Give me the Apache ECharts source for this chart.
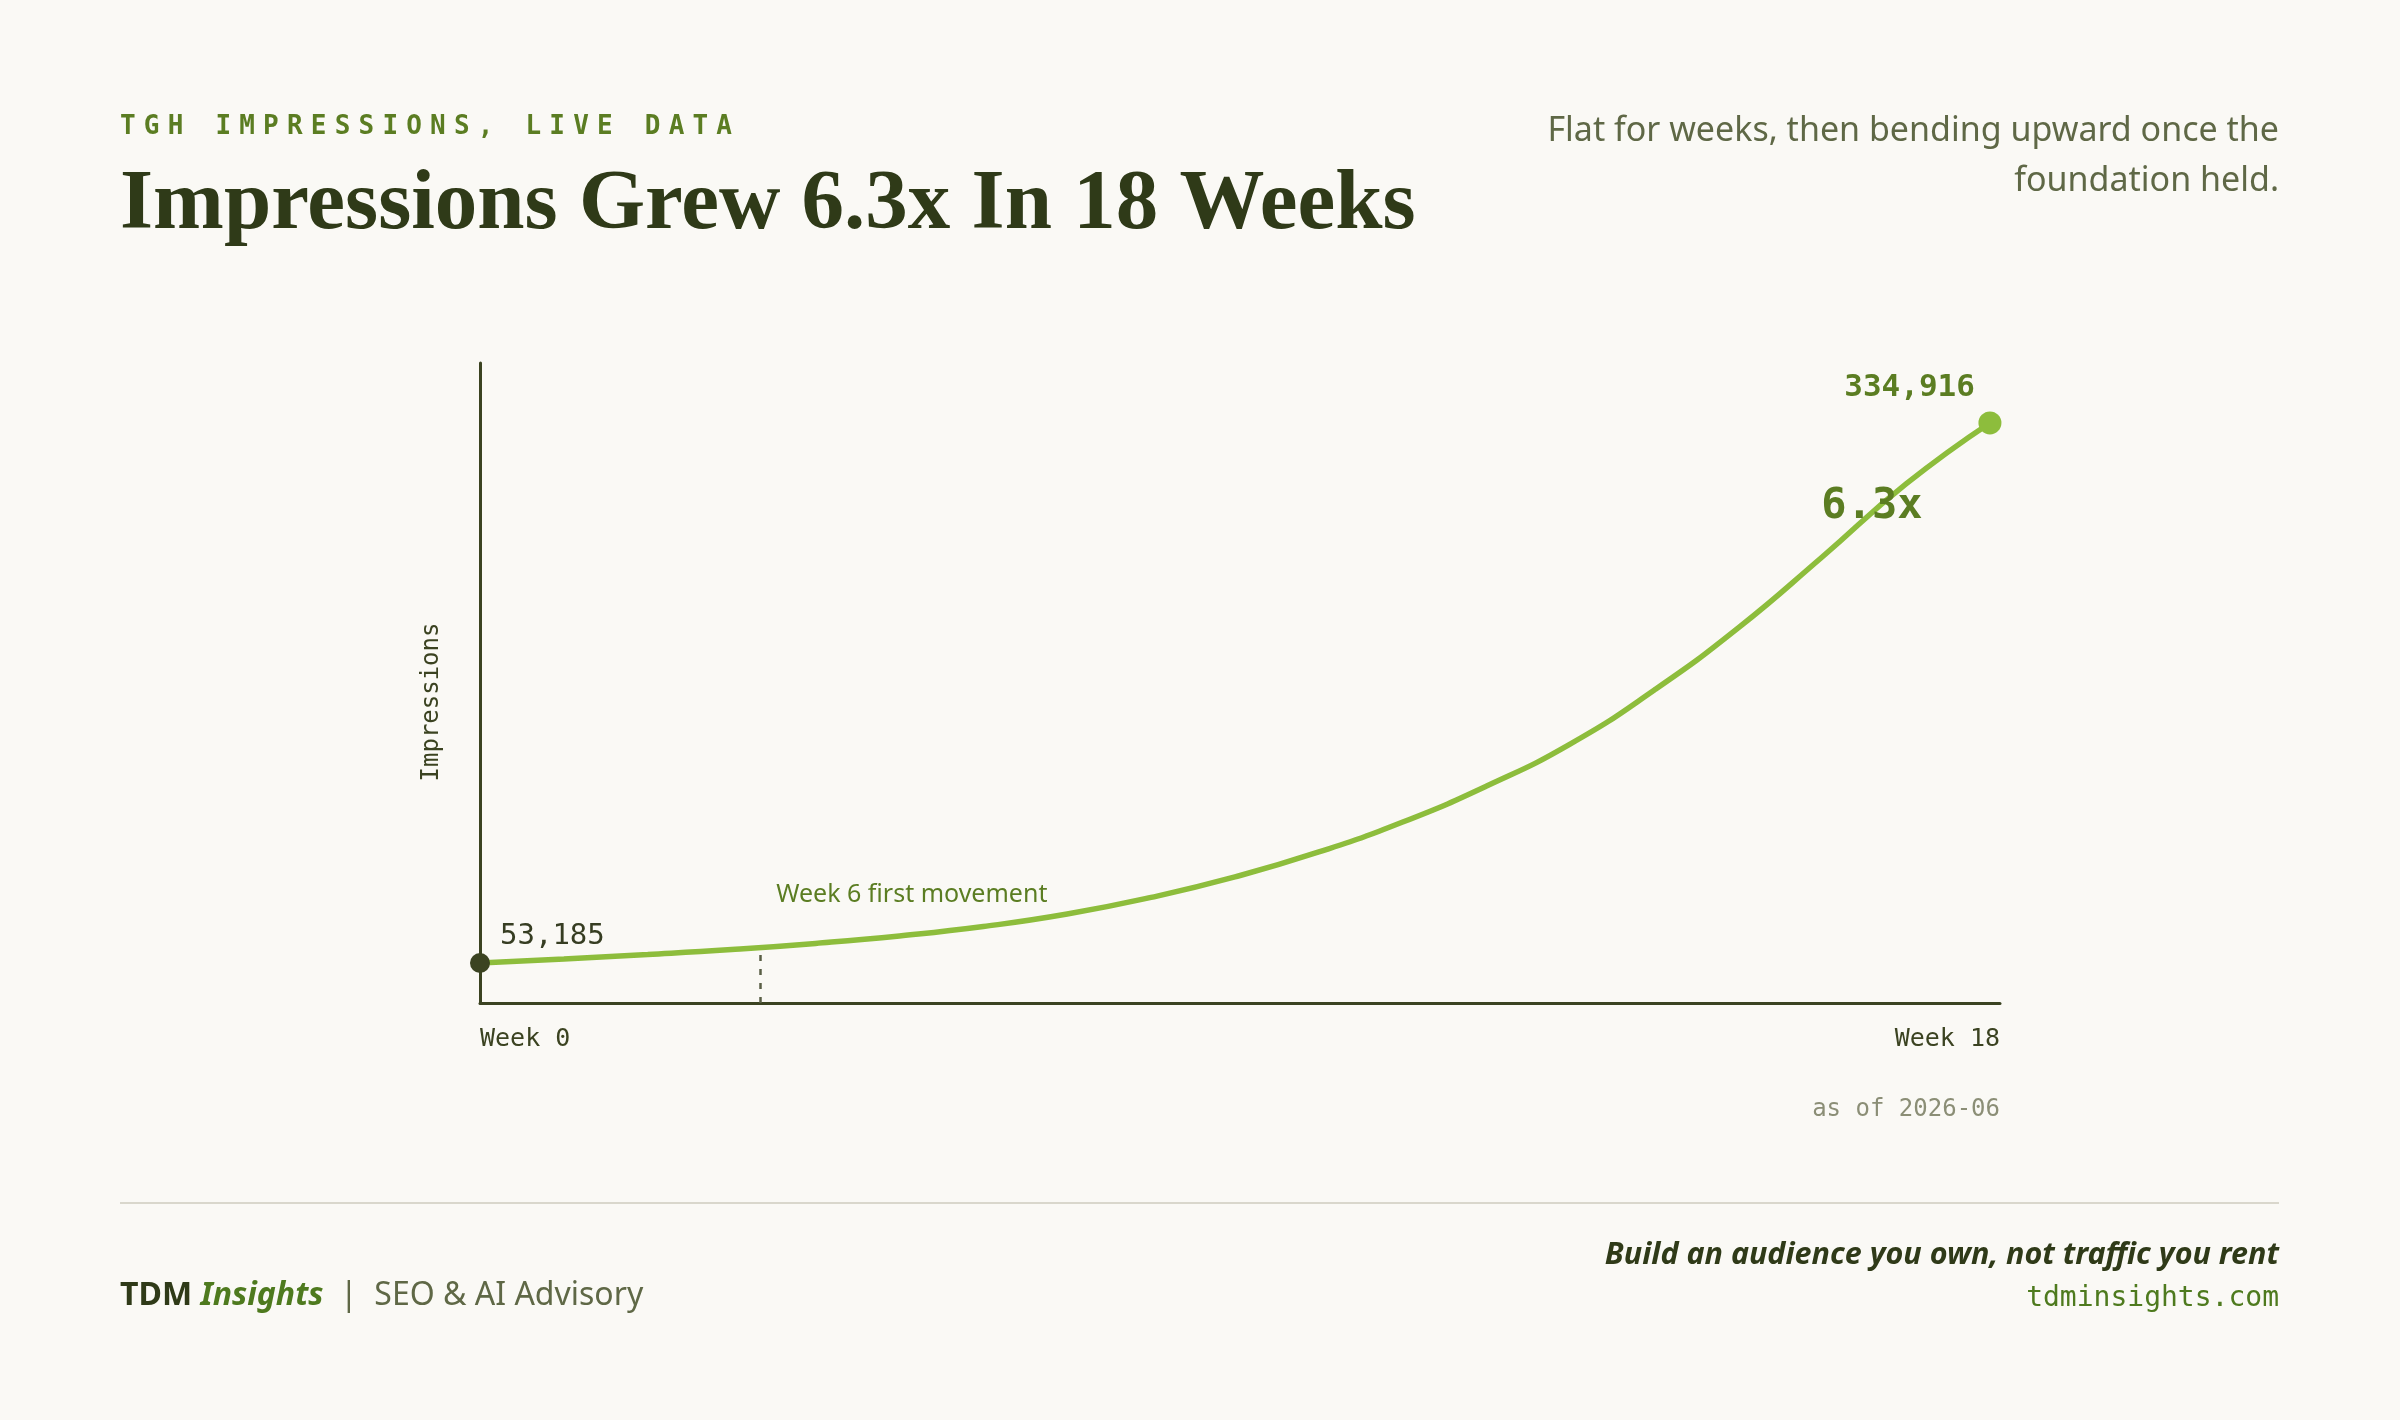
<!DOCTYPE html>
<html>
<head>
<meta charset="utf-8">
<title>Impressions Grew 6.3x In 18 Weeks</title>
<script src="https://cdn.jsdelivr.net/npm/echarts@6/dist/echarts.min.js"></script>
<style>
  html, body { margin: 0; padding: 0; background: #faf9f5; }
  #wrap { position: relative; width: 2400px; height: 1420px; }
  #main { width: 2400px; height: 1420px; }
  /* kicker needs letter-spacing, which canvas text can't do */
  #kicker {
    position: absolute; left: 120px; top: 108px;
    font: bold 26px "DejaVu Sans Mono", monospace;
    letter-spacing: 8.2px; color: #5b7d22; line-height: 34px;
    white-space: nowrap;
  }
</style>
</head>
<body>
<div id="wrap">
  <div id="main"></div>
  <div id="kicker">TGH IMPRESSIONS, LIVE DATA</div>
</div>
<script>
// weekly impressions
var weeks = [0, 1, 2, 3, 4, 5, 6, 7, 8, 9, 10, 11, 12, 13, 14, 15, 16, 17, 18];
var impressions = [53185, 55300, 57600, 60200, 63400, 67300, 72200, 78700, 87400, 98100,
  111100, 126700, 145500, 167500, 195600, 228000, 265000, 303100, 334916];
var weekLabels = ['Week 0', 'Week 18'];

// "first movement" marker
var markerWeek = 3.34;
var markerValue = 61500;
var markerText = 'Week 6 first movement';

var mono = '"DejaVu Sans Mono", "Liberation Mono", monospace';
var sans = '"Noto Sans", "Open Sans", sans-serif';
var serif = '"Liberation Serif", "DejaVu Serif", serif';

var dark = '#2f3a18';
var axisCol = '#3b4321';
var green = '#5b7d22';
var lineCol = '#8dbd3c';

var xMax = 18.12;
var yMin = 32300, yMax = 366200;

var first = impressions[0];
var last = impressions[impressions.length - 1];
var growth = (last / first).toFixed(1) + 'x';

function fmt(v) {
  return v.toLocaleString('en-US');
}

var lineData = [];
for (var i = 0; i < weeks.length; i++) {
  lineData.push([weeks[i], impressions[i]]);
}

var myChart = echarts.init(document.getElementById('main'), null, { renderer: 'canvas' });

var option = {
  backgroundColor: '#faf9f5',
  animation: false,
  grid: { left: 480, right: 400, top: 363, bottom: 417 },
  xAxis: {
    type: 'value',
    min: 0,
    max: xMax,
    splitLine: { show: false },
    axisTick: { show: false },
    axisLine: { show: true, onZero: false, lineStyle: { color: axisCol, width: 3 } },
    axisLabel: {
      customValues: [0, xMax],
      formatter: function (v) { return v === 0 ? weekLabels[0] : weekLabels[1]; },
      alignMinLabel: 'left',
      alignMaxLabel: 'right',
      margin: 24,
      fontFamily: mono,
      fontSize: 25,
      color: axisCol
    }
  },
  yAxis: {
    type: 'value',
    min: yMin,
    max: yMax,
    splitLine: { show: false },
    axisTick: { show: false },
    axisLabel: { show: false },
    axisLine: { show: true, lineStyle: { color: axisCol, width: 3 } },
    name: 'Impressions',
    nameLocation: 'middle',
    nameRotate: 90,
    nameGap: 36,
    nameTextStyle: { fontFamily: mono, fontSize: 24, color: axisCol, padding: [0, 38, 0, 0] }
  },
  series: [
    {
      type: 'line',
      data: lineData,
      smooth: 0.5,
      showSymbol: false,
      lineStyle: { color: lineCol, width: 5.5 },
      z: 3,
      markLine: {
        silent: true,
        symbol: ['none', 'none'],
        label: { show: false },
        lineStyle: { color: '#5a5f45', width: 2.5, type: [6, 8] },
        data: [[{ coord: [markerWeek, yMin] }, { coord: [markerWeek, markerValue] }]]
      },
      markPoint: {
        silent: true,
        symbol: 'circle',
        symbolSize: 0,
        data: [
          {
            coord: [markerWeek, markerValue],
            label: {
              show: true, formatter: markerText, position: 'inside', align: 'left',
              offset: [16, -52], fontFamily: sans, fontSize: 25, color: green
            }
          },
          {
            coord: [weeks[weeks.length - 1], last],
            label: {
              show: true, formatter: growth, position: 'inside', align: 'center',
              offset: [-118, 84], fontFamily: mono, fontWeight: 'bold', fontSize: 42, color: green
            }
          }
        ]
      }
    },
    {
      type: 'scatter',
      z: 4,
      itemStyle: { opacity: 1 },
      data: [
        {
          value: [weeks[0], first],
          symbolSize: 20,
          itemStyle: { color: axisCol, opacity: 1 },
          label: {
            show: true, formatter: fmt(first), position: 'inside', align: 'left',
            offset: [20, -27], fontFamily: mono, fontSize: 29, color: '#363d22'
          }
        },
        {
          value: [weeks[weeks.length - 1], last],
          symbolSize: 23,
          itemStyle: { color: lineCol, opacity: 1 },
          label: {
            show: true, formatter: fmt(last), position: 'inside', align: 'right',
            offset: [-15, -35], fontFamily: mono, fontWeight: 'bold', fontSize: 31, color: green
          }
        }
      ]
    }
  ],
  graphic: [
    {
      type: 'text', x: 120, y: 206,
      style: { text: 'Impressions Grew 6.3x In 18 Weeks', font: 'bold 85px ' + serif, fill: dark, verticalAlign: 'middle' }
    },
    {
      type: 'text', x: 2279, y: 106,
      style: {
        text: 'Flat for weeks, then bending upward once the\nfoundation held.',
        font: '34px ' + sans, fill: '#5f6846', align: 'right', verticalAlign: 'top', lineHeight: 50
      }
    },
    {
      type: 'text', x: 2000, y: 1110,
      style: { text: 'as of 2026-06', font: '24px ' + mono, fill: '#8b8e76', align: 'right', verticalAlign: 'middle' }
    },
    {
      type: 'line',
      shape: { x1: 120, y1: 1203, x2: 2279, y2: 1203 },
      style: { stroke: '#d9d7cc', lineWidth: 2 }
    },
    {
      type: 'text', x: 120, y: 1296,
      style: {
        text: '{a|TDM} {b|Insights}  {c||}  {d|SEO & AI Advisory}',
        verticalAlign: 'middle',
        rich: {
          a: { fontFamily: sans, fontWeight: 'bold', fontSize: 32, fill: dark },
          b: { fontFamily: sans, fontWeight: 'bold', fontStyle: 'italic', fontSize: 32, fill: '#4e7a1e' },
          c: { fontFamily: sans, fontSize: 32, fill: '#5f6846' },
          d: { fontFamily: sans, fontSize: 32, fill: '#5f6846' }
        },
        font: '32px ' + sans, fill: '#5f6846'
      }
    },
    {
      type: 'text', x: 2279, y: 1255,
      style: {
        text: 'Build an audience you own, not traffic you rent',
        font: 'italic bold 30.5px ' + sans, fill: dark, align: 'right', verticalAlign: 'middle'
      }
    },
    {
      type: 'text', x: 2279, y: 1299,
      style: { text: 'tdminsights.com', font: '28px ' + mono, fill: '#4e7a1e', align: 'right', verticalAlign: 'middle' }
    }
  ]
};

myChart.setOption(option);
</script>
</body>
</html>
